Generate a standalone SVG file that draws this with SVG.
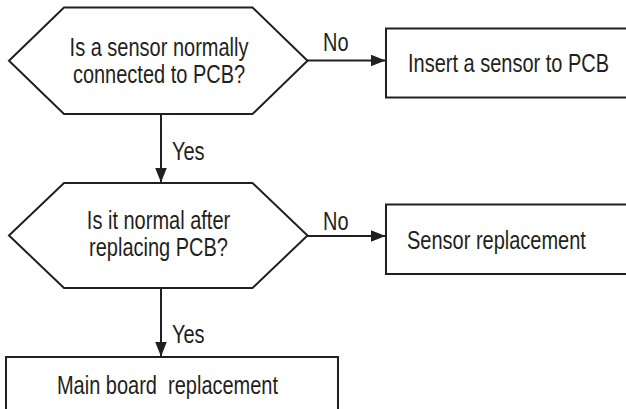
<svg xmlns="http://www.w3.org/2000/svg" width="626" height="409" viewBox="0 0 626 409">
<style>
.shape{fill:#fff;stroke:#231f20;stroke-width:2}
.line{fill:none;stroke:#231f20;stroke-width:2}
text{font-family:"Liberation Sans",Arial,sans-serif;font-size:25px;fill:#231f20;white-space:pre}
.c{text-anchor:middle}
</style>
<defs>
<marker id="arr" markerUnits="userSpaceOnUse" markerWidth="15" markerHeight="12" refX="15" refY="6" orient="auto">
<path d="M0,0 L15,6 L0,12 z" fill="#231f20"/>
</marker>
</defs>
<rect width="626" height="409" fill="#fff"/>
<g id="connectors">
<line class="line" x1="161" y1="114" x2="161" y2="182.5" marker-end="url(#arr)"/>
<line class="line" x1="161" y1="288" x2="161" y2="356.5" marker-end="url(#arr)"/>
<line class="line" x1="307" y1="60.5" x2="385.5" y2="60.5" marker-end="url(#arr)"/>
<line class="line" x1="307" y1="236" x2="385.5" y2="236" marker-end="url(#arr)"/>
<text transform="translate(172,160) scale(0.8,1)">Yes</text>
<text transform="translate(172,343) scale(0.8,1)">Yes</text>
<text transform="translate(323,51) scale(0.8,1)">No</text>
<text transform="translate(323,230) scale(0.8,1)">No</text>
</g>
<g id="q1">
<polygon class="shape" points="9,60.75 64,7.5 252.5,7.5 307.5,60.75 252.5,114 64,114"/>
<text class="c" transform="translate(159,56) scale(0.8,1)">Is a sensor normally</text>
<text class="c" transform="translate(159,83) scale(0.8,1)">connected to PCB?</text>
</g>
<g id="insert">
<rect class="shape" x="386" y="28.5" width="250" height="69"/>
<text transform="translate(408,72) scale(0.8,1)">Insert a sensor to PCB</text>
</g>
<g id="q2">
<polygon class="shape" points="9,235.5 64,183 252.5,183 307.5,235.5 252.5,288 64,288"/>
<text class="c" transform="translate(158.5,229) scale(0.8,1)">Is it normal after</text>
<text class="c" transform="translate(158.5,256) scale(0.8,1)">replacing PCB?</text>
</g>
<g id="sensor">
<rect class="shape" x="386" y="204.5" width="250" height="69.5"/>
<text transform="translate(407,248.5) scale(0.8,1)">Sensor replacement</text>
</g>
<g id="main">
<rect class="shape" x="6" y="357" width="332" height="70"/>
<text class="c" transform="translate(167.5,393.5) scale(0.8,1)">Main board  replacement</text>
</g>
</svg>
